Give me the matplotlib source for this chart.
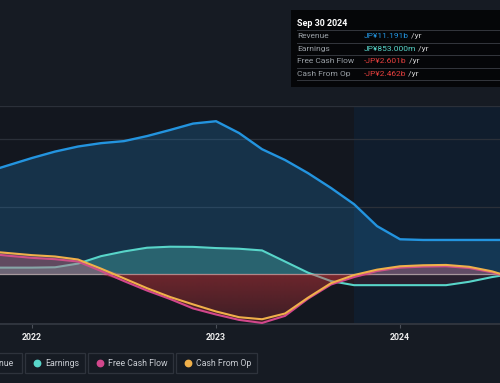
import matplotlib
matplotlib.use("Agg")
import matplotlib.pyplot as plt
from matplotlib.patches import Rectangle
from matplotlib.lines import Line2D
from matplotlib.text import Annotation
from matplotlib.colors import to_rgb
import numpy as np

plt.rcParams['font.family'] = ['Roboto', 'DejaVu Sans']

# ---- data (JPY billions, trailing twelve months), sampled every 1.5 months ----
years = [2021.75, 2021.875, 2022.0, 2022.125, 2022.25, 2022.375, 2022.5, 2022.625,
         2022.75, 2022.875, 2023.0, 2023.125, 2023.25, 2023.375, 2023.5, 2023.625,
         2023.75, 2023.875, 2024.0, 2024.125, 2024.25, 2024.375, 2024.5, 2024.625,
         2024.75]
revenue = [30.3, 32.4, 34.5, 36.4, 37.9, 38.9, 39.5, 41.0, 42.8, 44.7, 45.4, 41.9,
           37.1, 33.9, 30.0, 25.6, 20.8, 14.3, 10.4, 10.2, 10.2, 10.2, 10.2, 10.2,
           10.2]
earnings = [2.0, 2.0, 2.0, 2.1, 3.2, 5.4, 6.8, 7.9, 8.2, 8.15, 7.8, 7.6, 7.1, 3.8,
            0.5, -2.0, -3.2, -3.2, -3.2, -3.2, -3.2, -2.2, -0.8, 0.3, 0.85]
free_cash_flow = [6.2, 5.5, 4.9, 4.5, 3.8, 1.0, -2.0, -4.8, -7.3, -10.1, -11.9,
                  -13.5, -14.4, -12.3, -7.2, -3.0, -0.8, 1.0, 2.0, 2.3, 2.4, 1.9,
                  0.6, -1.3, -2.601]
cash_from_op = [6.9, 6.3, 5.7, 5.3, 4.4, 1.7, -1.2, -4.1, -6.7, -8.9, -11.0, -12.7,
                -13.3, -11.6, -6.9, -2.6, -0.2, 1.4, 2.4, 2.7, 2.8, 2.25, 0.9, -1.2,
                -2.462]
tick_years = [2022, 2023, 2024]
highlight_start = 2023.75

legend_labels = ["Revenue", "Earnings", "Free Cash Flow", "Cash From Op"]
tooltip_title = "Sep 30 2024"
tooltip_values = ["JP¥11.191b", "JP¥853.000m", "-JP¥2.601b", "-JP¥2.462b"]

# ---- style ----
BG = '#161b23'
C_REV = '#2394df'
C_EARN = '#58d5c9'
C_FCF = '#d2478c'
C_CFO = '#f0b04a'
C_NEG = '#e0393e'
C_POS = '#c46a7e'

W, H = 500, 383
fig = plt.figure(figsize=(W / 100, H / 100), dpi=100, facecolor=BG)


def fx(px):
    return px / W


def fy(py):
    return 1 - py / H


XMIN, XMAX = 2021.826, 2024.543
YMIN, YMAX = -14.8, 50
ax_top, ax_bot = 105.7, 324.3
ax = fig.add_axes([0, fy(ax_bot), 1, (ax_bot - ax_top) / H])
ax.set_facecolor('#13171f')
ax.set_xlim(XMIN, XMAX)
ax.set_ylim(YMIN, YMAX)

x = np.array(years)
rev = np.array(revenue)
earn = np.array(earnings)
fcf = np.array(free_cash_flow)
cfo = np.array(cash_from_op)

# highlight (last 12 months)
ax.axvspan(highlight_start, 2030, color='#0b2a4a', alpha=0.33, lw=0, zorder=0.2)

# gridlines
for gv in [20, 40, 50]:
    ax.axhline(gv, color='#2b3039', lw=0.9, zorder=0.5)

# revenue
ax.fill_between(x, rev, 0, color=C_REV, alpha=0.22, lw=0, zorder=1)
ax.plot(x, rev, color=C_REV, lw=1.7, zorder=2, solid_joinstyle='round')

# earnings
ax.fill_between(x, np.maximum(earn, 0), 0, color=C_EARN, alpha=0.3, lw=0, zorder=3)
ax.fill_between(x, np.minimum(earn, 0), 0, color=C_NEG, alpha=0.12, lw=0, zorder=3)
ax.plot(x, earn, color=C_EARN, lw=1.5, zorder=4, solid_joinstyle='round')

# zero line
ax.axhline(0, color='#b8b8b8', lw=0.9, alpha=0.85, zorder=4.5)

# negative cash-flow area with vertical red gradient
neg_poly = ax.fill_between(x, np.minimum(np.minimum(fcf, cfo), 0), 0,
                           color='none', lw=0, zorder=5)
grad = np.zeros((200, 2, 4))
grad[..., :3] = to_rgb(C_NEG)
grad[..., 3] = np.linspace(0.44, 0.20, 200)[:, None]
im = ax.imshow(grad, extent=[XMIN, XMAX + 1, YMIN, 0], origin='upper',
               aspect='auto', zorder=5, interpolation='bilinear')
im.set_clip_path(neg_poly.get_paths()[0], transform=ax.transData)
ax.set_xlim(XMIN, XMAX)
ax.set_ylim(YMIN, YMAX)

# free cash flow
ax.fill_between(x, np.maximum(fcf, 0), 0, color=C_POS, alpha=0.25, lw=0, zorder=5)
ax.plot(x, fcf, color=C_FCF, lw=1.5, zorder=6, solid_joinstyle='round')

# cash from op
ax.fill_between(x, np.maximum(cfo, 0), 0, color=C_POS, alpha=0.25, lw=0, zorder=7)
ax.plot(x, cfo, color=C_CFO, lw=1.5, zorder=8, solid_joinstyle='round')

# axes styling
for s in ['top', 'left', 'right']:
    ax.spines[s].set_visible(False)
ax.spines['bottom'].set_color('#30353e')
ax.spines['bottom'].set_linewidth(1.4)
ax.set_yticks([])
ax.set_xticks(tick_years)
ax.set_xticklabels([str(t) for t in tick_years])
ax.tick_params(axis='x', colors='#4a4f58', length=3, width=0.8, pad=3,
               labelcolor='#ececec', labelsize=6.3)
for lab in ax.get_xticklabels():
    lab.set_fontweight('bold')

# ---- legend boxes ----
leg_top, leg_bot = 353.3, 373.3
boxes = [(-70, 22), (25, 85), (88, 173), (176, 257)]
dots = [-60, 37, 100, 188]
colors = [C_REV, C_EARN, C_FCF, C_CFO]
ly = (leg_top + leg_bot) / 2
for (x0, x1), dx, c, lab in zip(boxes, dots, colors, legend_labels):
    fig.add_artist(Rectangle((fx(x0), fy(leg_bot)), fx(x1 - x0), (leg_bot - leg_top) / H,
                             transform=fig.transFigure, facecolor='none',
                             edgecolor='#2e333c', lw=0.9))
    fig.add_artist(Line2D([fx(dx)], [fy(ly)], marker='o', markersize=4.6, color=c,
                          transform=fig.transFigure, lw=0))
    if lab == "Revenue":
        fig.text(fx(13.5), fy(ly), lab, color='#c8ccd2', fontsize=6.3,
                 ha='right', va='center')
    else:
        fig.text(fx(dx + 8.5), fy(ly), lab, color='#c8ccd2', fontsize=6.3,
                 ha='left', va='center')

# ---- tooltip ----
fig.add_artist(Rectangle((fx(291), fy(87)), fx(220), 77 / H, transform=fig.transFigure,
                         facecolor='#050608', edgecolor='none', zorder=10))
fig.text(fx(297), fy(23), tooltip_title, color='#ffffff', fontsize=6.4,
         fontweight='bold', ha='left', va='center', zorder=12)
for sy in [30, 42.7, 55, 67.7, 80]:
    fig.add_artist(Line2D([fx(297), fx(505)], [fy(sy), fy(sy)], color='#34373d', lw=0.7,
                          transform=fig.transFigure, zorder=11))
row_y = [36.4, 48.8, 61.3, 73.8]
val_colors = [C_REV, C_EARN, '#e8403e', '#e8403e']
for ry, lab, val, vc in zip(row_y, legend_labels, tooltip_values, val_colors):
    fig.text(fx(297), fy(ry), lab, color='#9aa0a6', fontsize=6.0, ha='left',
             va='center', zorder=12)
    t = fig.text(fx(364), fy(ry), val, color=vc, fontsize=6.0, ha='left',
                 va='center', zorder=12)
    fig.add_artist(Annotation(" /yr", xy=(1, 0.5), xycoords=t, color='#d0d0d0',
                              fontsize=6.0, ha='left', va='center', zorder=12,
                              annotation_clip=False))

fig.savefig('out.png', dpi=100, facecolor=BG)
